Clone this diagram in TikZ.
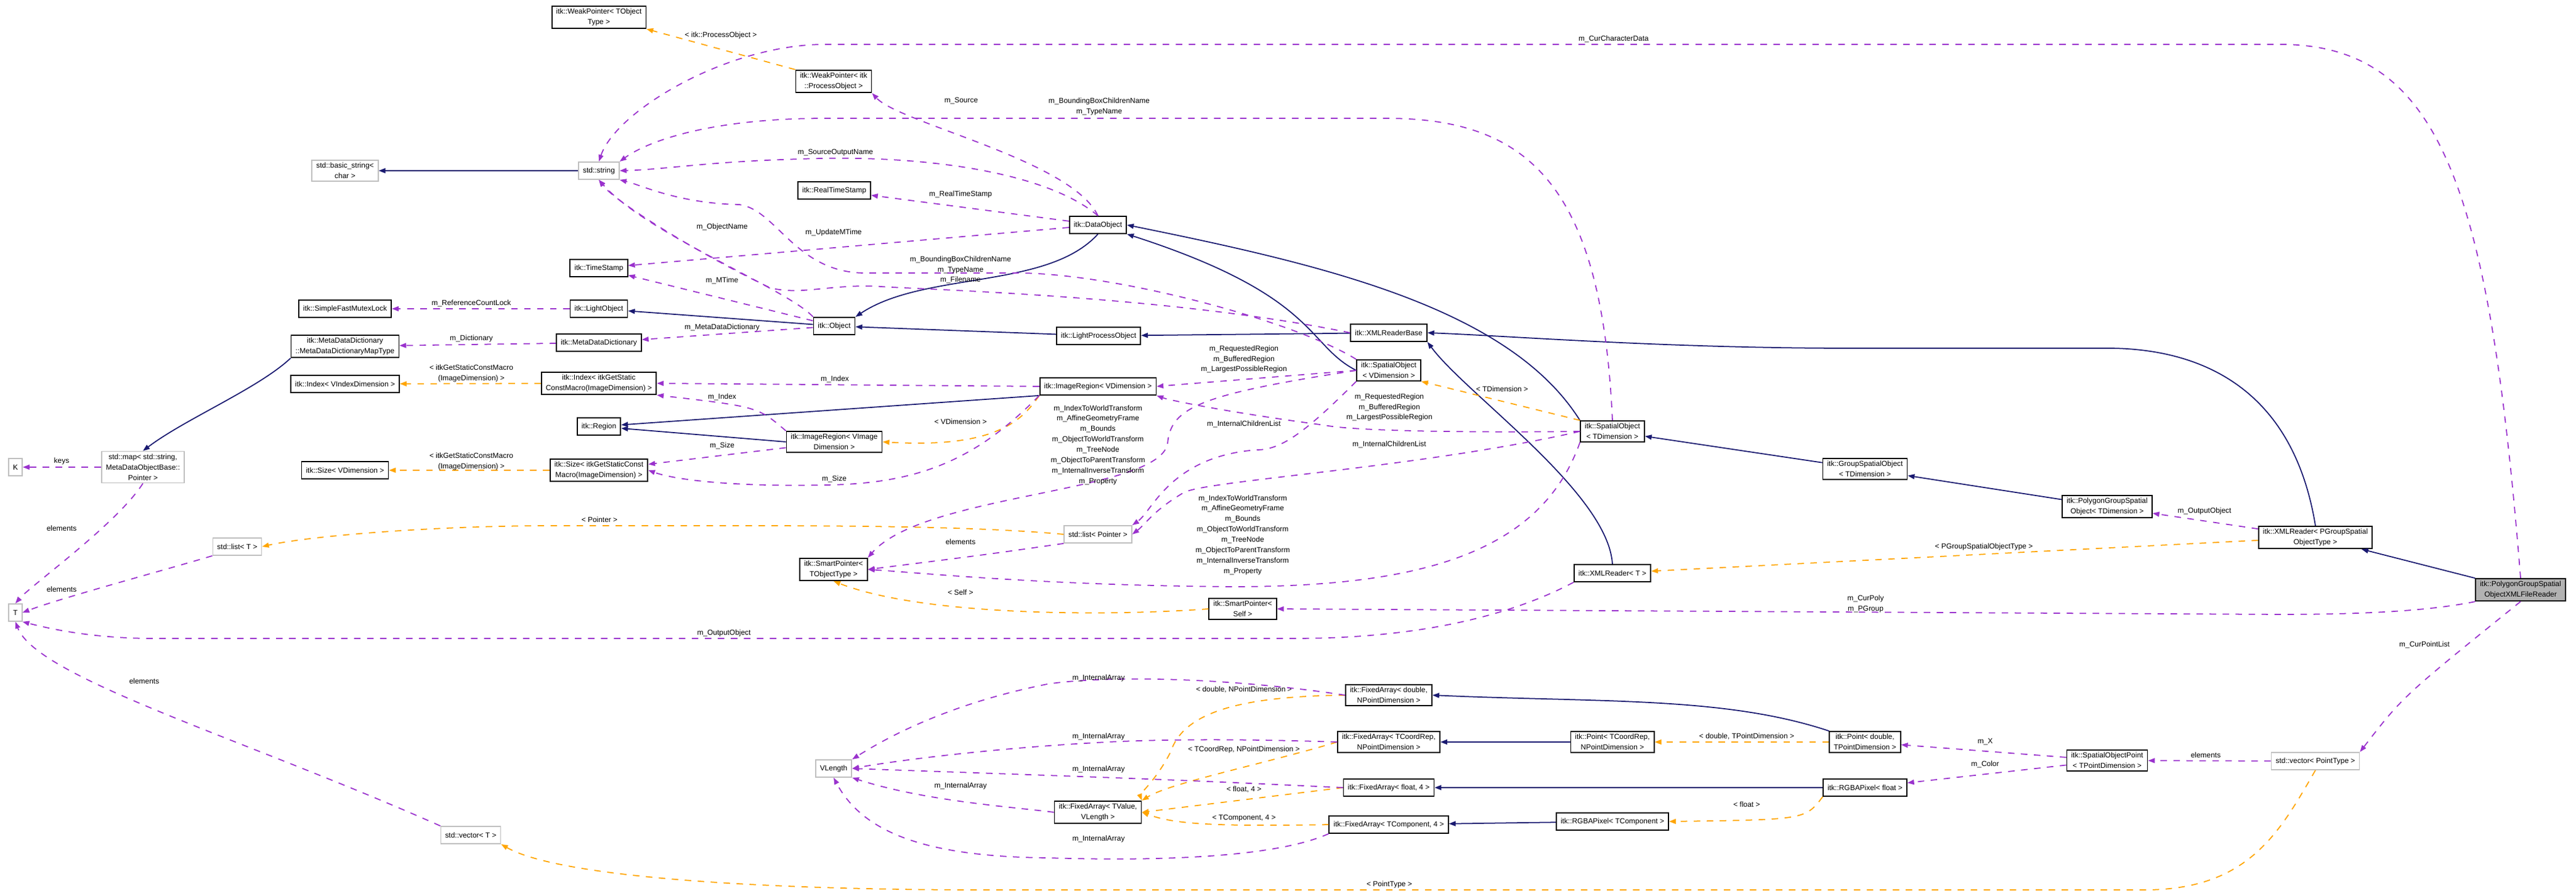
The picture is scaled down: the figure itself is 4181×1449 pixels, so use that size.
\documentclass[tikz,border=0pt]{standalone}
\usepackage{fontspec}
\setmainfont{Liberation Sans}
\usetikzlibrary{arrows.meta}
\definecolor{inhblue}{HTML}{191970}
\definecolor{usepurple}{HTML}{9A32CD}
\definecolor{tplorange}{HTML}{FFA500}
\tikzset{
  cls/.style={draw=black, line width=0.5pt, fill=white, align=center, inner xsep=2pt, inner ysep=1.2pt,
    minimum height=0.28cm, font=\fontsize{3.4}{4.8}\selectfont},
  ext/.style={cls, draw=black!25},
  main/.style={cls, fill=black!30},
  lbl/.style={align=center, inner sep=0pt, font=\fontsize{3.4}{4.8}\selectfont},
  inh/.style={inhblue, line width=0.5pt, -{Triangle[length=1.1mm,width=0.8mm]}},
  use/.style={usepurple, dashed, line width=0.5pt, -{Triangle[length=1.1mm,width=0.8mm]}},
  tpl/.style={tplorange, dashed, line width=0.5pt, -{Triangle[length=1.1mm,width=0.8mm]}}
}
\begin{document}
\begin{tikzpicture}[x=0.1mm,y=-0.1mm]
\useasboundingbox (0,0) rectangle (4181,1449);
% classes
\node[cls] (wpT) at (972,28) {itk::WeakPointer< TObject\\Type >};
\node[cls] (wpPO) at (1353,132) {itk::WeakPointer< itk\\::ProcessObject >};
\node[ext] (bstr) at (560,277) {std::basic\_string<\\char >};
\node[ext] (str) at (972,277) {std::string};
\node[cls] (rts) at (1354,309) {itk::RealTimeStamp};
\node[cls] (dobj) at (1782,365) {itk::DataObject};
\node[cls] (ts) at (972,435) {itk::TimeStamp};
\node[cls] (mutex) at (560,501) {itk::SimpleFastMutexLock};
\node[cls] (lobj) at (972,501) {itk::LightObject};
\node[cls] (obj) at (1354,529) {itk::Object};
\node[cls] (mddmap) at (560,562) {itk::MetaDataDictionary\\::MetaDataDictionaryMapType};
\node[cls] (mdd) at (972,556) {itk::MetaDataDictionary};
\node[cls] (lpo) at (1783,545) {itk::LightProcessObject};
\node[cls] (xrb) at (2254,540) {itk::XMLReaderBase};
\node[cls] (idxV) at (560,623) {itk::Index< VIndexDimension >};
\node[cls] (idxS) at (972,622) {itk::Index< itkGetStatic\\ConstMacro(ImageDimension) >};
\node[cls] (region) at (972,692) {itk::Region};
\node[cls] (irVI) at (1354,717) {itk::ImageRegion< VImage\\Dimension >};
\node[cls] (irV) at (1782,627) {itk::ImageRegion< VDimension >};
\node[cls] (soV) at (2254,601) {itk::SpatialObject\\< VDimension >};
\node[cls] (soT) at (2617,700) {itk::SpatialObject\\< TDimension >};
\node[cls] (sizeV) at (560,763) {itk::Size< VDimension >};
\node[cls] (sizeS) at (972,763) {itk::Size< itkGetStaticConst\\Macro(ImageDimension) >};
\node[ext] (K) at (25,758) {K};
\node[ext] (smap) at (232,758) {std::map< std::string,\\MetaDataObjectBase::\\Pointer >};
\node[ext] (listT) at (385,887) {std::list< T >};
\node[ext] (T) at (25,994) {T};
\node[cls] (spTO) at (1353,924) {itk::SmartPointer<\\TObjectType >};
\node[ext] (lplist) at (1782,867) {std::list< Pointer >};
\node[cls] (xrT) at (2617,930) {itk::XMLReader< T >};
\node[cls] (spSelf) at (2017,988) {itk::SmartPointer<\\Self >};
\node[cls] (gso) at (3027,761) {itk::GroupSpatialObject\\< TDimension >};
\node[cls] (pgso) at (3420,822) {itk::PolygonGroupSpatial\\Object< TDimension >};
\node[cls] (xrPG) at (3758,872) {itk::XMLReader< PGroupSpatial\\ObjectType >};
\node[main] (main) at (4091,957) {itk::PolygonGroupSpatial\\ObjectXMLFileReader};
\node[ext] (vlen) at (1353,1247) {VLength};
\node[ext] (vecT) at (764,1355) {std::vector< T >};
\node[cls] (faD) at (2254,1128) {itk::FixedArray< double,\\NPointDimension >};
\node[cls] (faC) at (2254,1204) {itk::FixedArray< TCoordRep,\\NPointDimension >};
\node[cls] (ptC) at (2617,1204) {itk::Point< TCoordRep,\\NPointDimension >};
\node[cls] (faF) at (2254,1278) {itk::FixedArray< float, 4 >};
\node[cls] (faV) at (1782,1318) {itk::FixedArray< TValue,\\VLength >};
\node[cls] (faT4) at (2254,1338) {itk::FixedArray< TComponent, 4 >};
\node[cls] (rgbaT) at (2617,1333) {itk::RGBAPixel< TComponent >};
\node[cls] (ptD) at (3027,1204) {itk::Point< double,\\TPointDimension >};
\node[cls] (rgbaF) at (3027,1278) {itk::RGBAPixel< float >};
\node[cls] (sop) at (3420,1234) {itk::SpatialObjectPoint\\< TPointDimension >};
\node[ext] (vecP) at (3758,1235) {std::vector< PointType >};
% inheritance
\draw[inh] (str) -- (bstr);
\draw[inh] (dobj.south) .. controls (1700,470) and (1500,440) .. (obj.north east);
\draw[inh] (obj) -- (lobj);
\draw[inh] (lpo) -- (obj);
\draw[inh] (xrb) -- (lpo);
\draw[inh] (mddmap.south west) .. controls (420,630) and (300,680) .. (smap.north);
\draw[inh] (irV.south west) -- (region);
\draw[inh] (irVI.west) -- (region);
\draw[inh] (soV.west) .. controls (2120,560) and (2140,480) .. (dobj.south east);
\draw[inh] (soT.north west) .. controls (2450,500) and (2150,430) .. (dobj.east);
\draw[inh] (xrT.north) .. controls (2610,800) and (2380,640) .. (xrb.south east);
\draw[inh] (xrPG.north) .. controls (3720,620) and (3560,565) .. (3420,565) -- (3000,565) .. controls (2700,565) and (2450,545) .. (xrb.east);
\draw[inh] (gso) -- (soT);
\draw[inh] (pgso) -- (gso);
\draw[inh] (main) -- (xrPG);
\draw[inh] (ptD.north west) .. controls (2800,1130) and (2600,1140) .. (faD.east);
\draw[inh] (ptC) -- (faC);
\draw[inh] (rgbaF) -- (faF);
\draw[inh] (rgbaT) -- (faT4);
% templates
\draw[tpl] (wpPO.north west) -- (wpT.south east);
\node[lbl] at (1170,57) {< itk::ProcessObject >};
\draw[tpl] (idxS) -- (idxV);
\node[lbl] at (765,606) {< itkGetStaticConstMacro\\(ImageDimension) >};
\draw[tpl] (sizeS) -- (sizeV);
\node[lbl] at (765,749) {< itkGetStaticConstMacro\\(ImageDimension) >};
\draw[tpl] (irV.south west) .. controls (1660,680) and (1620,728) .. (irVI.east);
\node[lbl] at (1559,684) {< VDimension >};
\draw[tpl] (soT.north west) -- (soV.south east);
\node[lbl] at (2438,631) {< TDimension >};
\draw[tpl] (lplist.west) .. controls (1600,855) and (1400,853) .. (1200,853) -- (900,853) .. controls (700,853) and (500,870) .. (listT.east);
\node[lbl] at (973,843) {< Pointer >};
\draw[tpl] (spSelf.west) .. controls (1800,1000) and (1500,1000) .. (spTO.south);
\node[lbl] at (1559,961) {< Self >};
\draw[tpl] (xrPG) -- (xrT);
\node[lbl] at (3220,887) {< PGroupSpatialObjectType >};
\draw[tpl] (ptD) -- (ptC);
\node[lbl] at (2835,1195) {< double, TPointDimension >};
\draw[tpl] (rgbaF.south west) .. controls (2930,1330) .. (rgbaT.east);
\node[lbl] at (2835,1305) {< float >};
\draw[tpl] (vecP.south) .. controls (3700,1350) and (3650,1444) .. (3480,1444) -- (1600,1444) .. controls (1200,1444) and (900,1420) .. (vecT.south east);
\node[lbl] at (2255,1435) {< PointType >};
\draw[tpl] (faD.west) .. controls (2000,1130) and (1920,1160) .. (1900,1220) .. controls (1880,1260) and (1850,1290) .. (faV.north east);
\node[lbl] at (2019,1119) {< double, NPointDimension >};
\draw[tpl] (faC.west) .. controls (2050,1240) and (1900,1270) .. (faV.north east);
\node[lbl] at (2019,1216) {< TCoordRep, NPointDimension >};
\draw[tpl] (faF.west) -- (faV.east);
\node[lbl] at (2019,1281) {< float, 4 >};
\draw[tpl] (faT4.west) .. controls (1950,1342) and (1900,1335) .. (faV.east);
\node[lbl] at (2019,1328) {< TComponent, 4 >};
% members
\draw[use] (dobj.north) .. controls (1740,260) and (1460,200) .. (wpPO.south east);
\node[lbl] at (1560,164) {m\_Source};
\draw[use] (main.north) .. controls (4040,300) and (3960,72) .. (3700,72) -- (1340,72) .. controls (1180,72) and (1000,180) .. (str.north);
\node[lbl] at (2619,63) {m\_CurCharacterData};
\draw[use] (soT.north) .. controls (2600,300) and (2480,192) .. (2250,192) -- (1340,192) .. controls (1150,192) and (1050,230) .. (str.north east);
\node[lbl] at (1784,173) {m\_BoundingBoxChildrenName\\m\_TypeName};
\draw[use] (dobj.north) .. controls (1700,280) and (1500,250) .. (1300,258) .. controls (1150,262) and (1080,275) .. (str.east);
\node[lbl] at (1356,248) {m\_SourceOutputName};
\draw[use] (dobj) -- (rts);
\node[lbl] at (1559,315) {m\_RealTimeStamp};
\draw[use] (dobj) -- (ts);
\node[lbl] at (1353,377) {m\_UpdateMTime};
\draw[use] (obj) -- (ts);
\node[lbl] at (1172,455) {m\_MTime};
\draw[use] (obj.north west) .. controls (1280,470) and (1050,380) .. (str.south);
\node[lbl] at (1172,368) {m\_ObjectName};
\draw[use] (soV.north west) .. controls (2100,520) and (1800,440) .. (1640,443) -- (1400,443) .. controls (1290,440) and (1260,340) .. (1200,332) .. controls (1100,330) and (1040,300) .. (str.south east);
\draw[use] (xrb.west) .. controls (1900,480) and (1500,470) .. (1430,465) .. controls (1350,460) and (1300,480) .. (1250,467) .. controls (1150,420) and (1000,330) .. (str.south);
\node[lbl] at (1559,438) {m\_BoundingBoxChildrenName\\m\_TypeName\\m\_Filename};
\draw[use] (lobj) -- (mutex);
\node[lbl] at (765,492) {m\_ReferenceCountLock};
\draw[use] (obj) -- (mdd);
\node[lbl] at (1172,531) {m\_MetaDataDictionary};
\draw[use] (mdd) -- (mddmap);
\node[lbl] at (765,549) {m\_Dictionary};
\draw[use] (smap) -- (K);
\node[lbl] at (100,748) {keys};
\draw[use] (smap.south) .. controls (190,850) and (50,950) .. (T.north);
\node[lbl] at (100,857) {elements};
\draw[use] (listT.south west) .. controls (250,930) and (100,970) .. (T.east);
\node[lbl] at (100,956) {elements};
\draw[use] (vecT.north west) .. controls (400,1200) and (60,1100) .. (T.south);
\node[lbl] at (234,1105) {elements};
\draw[use] (irVI.north west) .. controls (1230,660) .. (idxS.south east);
\node[lbl] at (1172,644) {m\_Index};
\draw[use] (irV.west) -- (idxS.east);
\node[lbl] at (1355,615) {m\_Index};
\draw[use] (irVI) -- (sizeS);
\node[lbl] at (1172,723) {m\_Size};
\draw[use] (irV.south west) .. controls (1590,740) and (1500,785) .. (1340,787) .. controls (1200,790) and (1100,780) .. (sizeS.east);
\node[lbl] at (1354,777) {m\_Size};
\draw[use] (soV.west) -- (irV.east);
\node[lbl] at (2019,583) {m\_RequestedRegion\\m\_BufferedRegion\\m\_LargestPossibleRegion};
\draw[use] (soT.west) .. controls (2400,702) and (2200,700) .. (2150,690) .. controls (2000,670) and (1900,650) .. (irV.south east);
\node[lbl] at (2255,661) {m\_RequestedRegion\\m\_BufferedRegion\\m\_LargestPossibleRegion};
\draw[use] (soV.west) .. controls (1950,640) and (1900,660) .. (1895,720) .. controls (1880,800) and (1500,800) .. (spTO.north east);
\node[lbl] at (1782,722) {m\_IndexToWorldTransform\\m\_AffineGeometryFrame\\m\_Bounds\\m\_ObjectToWorldTransform\\m\_TreeNode\\m\_ObjectToParentTransform\\m\_InternalInverseTransform\\m\_Property};
\draw[use] (soT.south west) .. controls (2500,900) and (2300,952) .. (2000,952) .. controls (1700,950) and (1500,930) .. (spTO.east);
\node[lbl] at (2017,868) {m\_IndexToWorldTransform\\m\_AffineGeometryFrame\\m\_Bounds\\m\_ObjectToWorldTransform\\m\_TreeNode\\m\_ObjectToParentTransform\\m\_InternalInverseTransform\\m\_Property};
\draw[use] (soV.south west) .. controls (2120,700) and (2080,730) .. (2040,730) .. controls (1900,740) and (1870,830) .. (lplist.north east);
\node[lbl] at (2019,688) {m\_InternalChildrenList};
\draw[use] (soT.west) .. controls (2300,760) and (1950,780) .. (1920,800) .. controls (1870,830) and (1860,850) .. (lplist.east);
\node[lbl] at (2255,721) {m\_InternalChildrenList};
\draw[use] (lplist.south west) .. controls (1600,900) .. (spTO.east);
\node[lbl] at (1559,879) {elements};
\draw[use] (main.south west) .. controls (3950,990) and (3850,997) .. (3700,997) -- (spSelf.east);
\node[lbl] at (3028,980) {m\_CurPoly\\m\_PGroup};
\draw[use] (xrT.south west) .. controls (2450,1000) and (2300,1036) .. (2100,1036) -- (250,1036) .. controls (150,1036) and (80,1020) .. (T.south east);
\node[lbl] at (1175,1027) {m\_OutputObject};
\draw[use] (xrPG) -- (pgso);
\node[lbl] at (3578,829) {m\_OutputObject};
\draw[use] (main.south) .. controls (3900,1130) .. (vecP.north east);
\node[lbl] at (3935,1046) {m\_CurPointList};
\draw[use] (vecP) -- (sop);
\node[lbl] at (3580,1225) {elements};
\draw[use] (sop) -- (ptD);
\node[lbl] at (3222,1204) {m\_X};
\draw[use] (sop) -- (rgbaF);
\node[lbl] at (3222,1240) {m\_Color};
\draw[use] (faD.west) .. controls (2000,1100) and (1800,1095) .. (1700,1110) .. controls (1550,1140) and (1450,1190) .. (vlen.north east);
\node[lbl] at (1783,1100) {m\_InternalArray};
\draw[use] (faC.west) .. controls (2050,1200) and (1900,1198) .. (1780,1205) .. controls (1600,1215) and (1450,1235) .. (vlen.east);
\node[lbl] at (1783,1195) {m\_InternalArray};
\draw[use] (faF.west) .. controls (1900,1265) .. (vlen.east);
\node[lbl] at (1783,1248) {m\_InternalArray};
\draw[use] (faV.west) .. controls (1650,1310) and (1500,1300) .. (vlen.south east);
\node[lbl] at (1559,1275) {m\_InternalArray};
\draw[use] (faT4.south west) .. controls (2050,1400) and (1800,1395) .. (1700,1392) .. controls (1500,1390) and (1400,1350) .. (vlen.south);
\node[lbl] at (1783,1361) {m\_InternalArray};
\end{tikzpicture}
\end{document}
